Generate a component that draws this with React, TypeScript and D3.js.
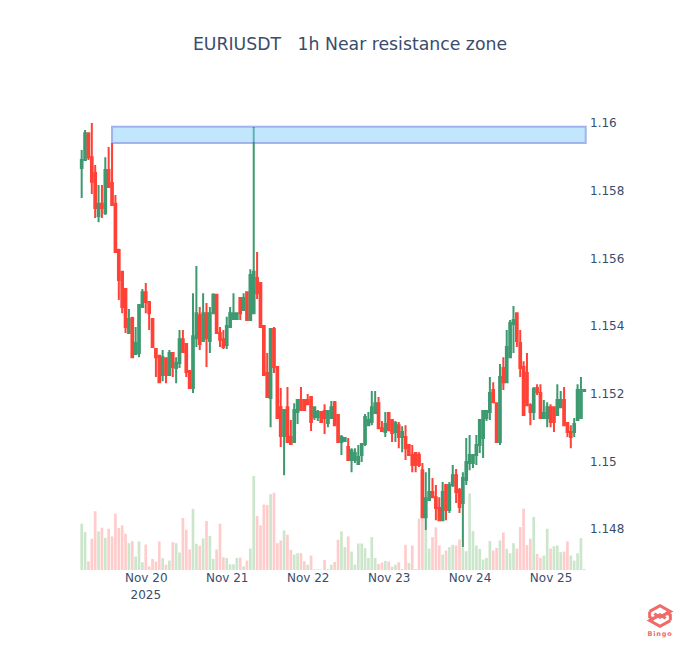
import { useEffect, useRef } from 'react'
import * as d3 from 'd3'

const startTime = '2025-11-19T05:00:00Z'

const opens = [
  1.15867, 1.15891, 1.1597, 1.15899, 1.15852, 1.15725, 1.15761, 1.15734, 1.15861, 1.15823,
  1.15761, 1.15625, 1.1556, 1.15509, 1.15379, 1.15424, 1.15317, 1.1532, 1.15456, 1.155,
  1.15471, 1.15421, 1.15332, 1.15312, 1.15255, 1.15305, 1.15255, 1.1532, 1.15276, 1.15291,
  1.15361, 1.15347, 1.15267, 1.15217, 1.15364, 1.15432, 1.15356, 1.15438, 1.15356, 1.15438,
  1.15492, 1.15379, 1.15361, 1.15344, 1.15397, 1.15421, 1.15421, 1.15483, 1.15447, 1.155,
  1.15418, 1.15438, 1.15542, 1.15527, 1.154, 1.15261, 1.15187, 1.15391, 1.15279, 1.1516,
  1.15075, 1.1516, 1.15072, 1.15057, 1.15146, 1.15181, 1.15181, 1.15181, 1.1519, 1.15131,
  1.15131, 1.15146, 1.15149, 1.15113, 1.15128, 1.15175, 1.15137, 1.15057, 1.1506, 1.15042,
  1.15004, 1.15004, 1.14992, 1.15019, 1.15051, 1.15107, 1.15116, 1.15143, 1.15172, 1.15098,
  1.15087, 1.15143, 1.15122, 1.15087, 1.15107, 1.15072, 1.15072, 1.15048, 1.15019, 1.15025,
  1.15019, 1.14974, 1.14835, 1.14886, 1.14909, 1.14894, 1.14862, 1.14826, 1.1493, 1.14856,
  1.1493, 1.14959, 1.14915, 1.14877, 1.14945, 1.14995, 1.14995, 1.15019, 1.15048, 1.15069,
  1.15128, 1.15146, 1.15211, 1.15172, 1.15057, 1.15276, 1.15234, 1.15308, 1.15406, 1.15438,
  1.1535, 1.15279, 1.15261, 1.15166, 1.15146, 1.15217, 1.15202, 1.15128, 1.15128, 1.1516,
  1.1516, 1.15137, 1.1516, 1.15181, 1.15113, 1.15087, 1.15087, 1.15122, 1.15128, 1.15208,
]
const highs = [
  1.1592, 1.15979, 1.1597, 1.16, 1.15876, 1.15817, 1.15817, 1.15899, 1.15929, 1.15941,
  1.15787, 1.15628, 1.1556, 1.15509, 1.1545, 1.15427, 1.15397, 1.15462, 1.15509, 1.15527,
  1.15471, 1.15421, 1.15332, 1.15312, 1.15329, 1.15305, 1.15329, 1.1532, 1.15308, 1.15388,
  1.15388, 1.15347, 1.15267, 1.15497, 1.15577, 1.15456, 1.15497, 1.15468, 1.15456, 1.15497,
  1.15492, 1.15397, 1.15388, 1.15427, 1.15456, 1.15497, 1.15438, 1.15483, 1.15497, 1.155,
  1.15568, 1.15988, 1.15619, 1.15527, 1.154, 1.1532, 1.15391, 1.15397, 1.15279, 1.15217,
  1.15152, 1.1522, 1.15122, 1.15172, 1.15181, 1.1522, 1.15181, 1.15199, 1.15193, 1.15163,
  1.15152, 1.15146, 1.15169, 1.15149, 1.15178, 1.15178, 1.15137, 1.15078, 1.15069, 1.15069,
  1.15039, 1.15039, 1.15048, 1.15051, 1.1514, 1.15146, 1.15208, 1.15208, 1.1519, 1.15119,
  1.15146, 1.15143, 1.15122, 1.15119, 1.15116, 1.15104, 1.15107, 1.15048, 1.15048, 1.15025,
  1.15027, 1.14995, 1.14968, 1.1498, 1.14951, 1.1493, 1.14894, 1.14939, 1.1493, 1.14939,
  1.14989, 1.14977, 1.14921, 1.14968, 1.15069, 1.15078, 1.15019, 1.15078, 1.15122, 1.15152,
  1.15149, 1.15249, 1.15234, 1.15172, 1.15288, 1.15308, 1.15388, 1.15418, 1.15459, 1.15438,
  1.15388, 1.15296, 1.1532, 1.15172, 1.1522, 1.15228, 1.15228, 1.15181, 1.15175, 1.15169,
  1.1516, 1.15228, 1.15208, 1.1522, 1.15116, 1.15107, 1.15128, 1.15228, 1.15249, 1.15211,
]
const lows = [
  1.15778, 1.15891, 1.15891, 1.1579, 1.15719, 1.15707, 1.15719, 1.15728, 1.15808, 1.15758,
  1.15619, 1.15477, 1.15438, 1.15379, 1.15379, 1.15308, 1.15314, 1.15308, 1.15456, 1.15438,
  1.15388, 1.15338, 1.15249, 1.15231, 1.15237, 1.15231, 1.15255, 1.15249, 1.15231, 1.15276,
  1.15323, 1.15249, 1.15217, 1.15202, 1.15338, 1.15329, 1.15356, 1.15279, 1.1532, 1.15438,
  1.15379, 1.15338, 1.15332, 1.15332, 1.15397, 1.15418, 1.15418, 1.15418, 1.15447, 1.15415,
  1.15418, 1.15438, 1.1548, 1.15397, 1.15255, 1.1519, 1.15101, 1.15261, 1.15128, 1.15042,
  1.14959, 1.15054, 1.15051, 1.15057, 1.1511, 1.15152, 1.15152, 1.15169, 1.1509, 1.15122,
  1.15119, 1.15116, 1.15081, 1.15101, 1.15128, 1.15107, 1.15057, 1.15019, 1.1506, 1.15001,
  1.14968, 1.14995, 1.14989, 1.14998, 1.15045, 1.15104, 1.15107, 1.15143, 1.15098, 1.15087,
  1.15072, 1.15092, 1.15057, 1.15057, 1.15039, 1.15027, 1.15004, 1.15019, 1.14968, 1.14968,
  1.14983, 1.14835, 1.14797, 1.14886, 1.14894, 1.14826, 1.14826, 1.14826, 1.14826, 1.14847,
  1.14924, 1.14877, 1.14847, 1.14747, 1.1493, 1.14974, 1.1498, 1.14989, 1.15025, 1.1501,
  1.15119, 1.15122, 1.15175, 1.15057, 1.15048, 1.15211, 1.15234, 1.15308, 1.1532, 1.15338,
  1.15249, 1.15137, 1.15166, 1.15107, 1.15122, 1.15196, 1.15128, 1.15128, 1.15101, 1.15101,
  1.15087, 1.15137, 1.1516, 1.15107, 1.15072, 1.15039, 1.15072, 1.15119, 1.15125, 1.15208,
]
const closes = [
  1.15891, 1.1597, 1.15899, 1.15826, 1.15749, 1.15761, 1.15749, 1.15861, 1.15811, 1.15758,
  1.15619, 1.15536, 1.15456, 1.15397, 1.15421, 1.15308, 1.1535, 1.15462, 1.155, 1.15471,
  1.15438, 1.15338, 1.15308, 1.15234, 1.15308, 1.15255, 1.1532, 1.15279, 1.15291, 1.15361,
  1.15323, 1.15264, 1.15217, 1.1537, 1.15438, 1.15347, 1.15438, 1.15364, 1.15438, 1.15492,
  1.15379, 1.15359, 1.15338, 1.154, 1.15438, 1.15438, 1.15438, 1.15438, 1.15483, 1.15418,
  1.15551, 1.1556, 1.15497, 1.15397, 1.15255, 1.1519, 1.15391, 1.15279, 1.15128, 1.15075,
  1.15152, 1.15057, 1.15051, 1.15152, 1.15181, 1.15152, 1.15152, 1.15169, 1.15116, 1.1516,
  1.15146, 1.15116, 1.15128, 1.15149, 1.1516, 1.15107, 1.15057, 1.15072, 1.15069, 1.15004,
  1.15033, 1.15025, 1.15013, 1.15051, 1.15131, 1.15122, 1.1516, 1.15172, 1.15098, 1.1509,
  1.1511, 1.15092, 1.15084, 1.15113, 1.15072, 1.15087, 1.15039, 1.15019, 1.14989, 1.14989,
  1.14989, 1.14835, 1.14891, 1.14909, 1.14894, 1.14862, 1.14826, 1.14909, 1.14856, 1.1493,
  1.14959, 1.14909, 1.14865, 1.14951, 1.14998, 1.15019, 1.15019, 1.15048, 1.15122, 1.15149,
  1.15149, 1.15202, 1.15175, 1.15057, 1.15249, 1.15234, 1.15338, 1.15409, 1.15418, 1.15356,
  1.15276, 1.15137, 1.15166, 1.15146, 1.15214, 1.15205, 1.15128, 1.15143, 1.1516, 1.15116,
  1.15116, 1.15181, 1.15181, 1.15107, 1.15087, 1.15072, 1.1511, 1.15211, 1.15211, 1.15211,
]
const volumes = [
  138, 113, 26, 93, 175, 115, 126, 96, 123, 100, 168, 125, 133, 108, 80, 86, 40, 85, 23, 76,
  11, 33, 25, 85, 35, 16, 28, 83, 80, 52, 155, 120, 61, 182, 78, 72, 94, 146, 101, 33,
  61, 138, 38, 36, 17, 17, 36, 37, 11, 28, 64, 280, 161, 133, 195, 194, 226, 230, 80, 88,
  118, 105, 60, 46, 50, 50, 26, 16, 43, 2, 2, 1, 30, 3, 16, 24, 90, 115, 68, 100,
  55, 16, 79, 79, 65, 36, 98, 36, 18, 22, 27, 25, 10, 16, 23, 3, 75, 21, 73, 3,
  153, 155, 120, 64, 98, 127, 73, 46, 58, 68, 75, 73, 91, 68, 56, 228, 116, 73, 63, 31,
  36, 86, 58, 66, 88, 112, 63, 50, 80, 64, 128, 183, 74, 93, 158, 48, 36, 43, 123, 64,
  71, 73, 53, 55, 85, 43, 28, 50, 95, 3,
]
const volumeUp = [
  1, 1, 0, 0, 0, 1, 0, 1, 0, 0, 0, 0, 0, 0, 1, 0, 1, 1, 1, 0,
  0, 0, 0, 0, 1, 0, 1, 0, 1, 1, 0, 0, 0, 1, 1, 0, 1, 0, 1, 1,
  0, 0, 0, 1, 1, 1, 1, 0, 1, 0, 1, 1, 0, 0, 0, 0, 1, 0, 0, 0,
  1, 0, 0, 1, 1, 0, 0, 1, 0, 1, 1, 0, 0, 1, 1, 0, 0, 1, 1, 0,
  1, 1, 1, 1, 1, 1, 1, 1, 0, 0, 1, 0, 0, 1, 0, 1, 0, 1, 0, 0,
  0, 0, 1, 1, 0, 0, 0, 1, 0, 1, 1, 0, 0, 1, 1, 1, 1, 1, 1, 1,
  1, 1, 0, 0, 1, 0, 1, 1, 1, 0, 0, 0, 0, 0, 1, 0, 0, 1, 1, 0,
  1, 1, 1, 0, 0, 1, 1, 1, 1, 1,
]

const priceTicks = [1.16, 1.158, 1.156, 1.154, 1.152, 1.15, 1.148]
const dayTicks = ['2025-11-20', '2025-11-21', '2025-11-22', '2025-11-23', '2025-11-24', '2025-11-25']
const zoneLow = 1.15941
const zoneHigh = 1.15989
const zoneStartIndex = 9

export default function App() {
  const svgRef = useRef<SVGSVGElement>(null)

  useEffect(() => {
    if (!svgRef.current) return

    const svg = d3.select(svgRef.current)
    svg.selectAll('*').remove()

    const font = '"DejaVu Sans", verdana, arial, sans-serif'
    const textColor = '#3a4c6c'
    const left = 80
    const right = 586
    const bottom = 570

    const start = new Date(startTime)
    const times = opens.map((_, i) => d3.utcHour.offset(start, i))
    const halfHour = 30 * 60 * 1000

    const x = d3.scaleUtc()
      .domain([new Date(+start - halfHour), new Date(+times[times.length - 1] + halfHour)])
      .range([left, right])
    const band = x(times[1]) - x(times[0])

    const y = d3.scaleLinear().domain([1.148, 1.16]).range([529, 123])
    const yVolume = d3.scaleLinear().domain([0, 280]).range([bottom, 476])

    // volume bars sit under the candles
    svg.append('g')
      .selectAll('rect')
      .data(volumes)
      .join('rect')
      .attr('x', (_, i) => x(times[i]) - band * 0.4)
      .attr('width', band * 0.8)
      .attr('y', d => yVolume(d))
      .attr('height', d => bottom - yVolume(d))
      .attr('fill', (_, i) => (volumeUp[i] ? 'rgba(0,128,0,0.2)' : 'rgba(255,0,0,0.2)'))

    svg.append('g')
      .selectAll('path')
      .data(opens)
      .join('path')
      .attr('fill', (o, i) => (closes[i] >= o ? '#3D9970' : '#FF4136'))
      .attr('stroke', (o, i) => (closes[i] >= o ? '#3D9970' : '#FF4136'))
      .attr('stroke-width', 2)
      .attr('d', (o, i) => {
        const cx = x(times[i])
        const w = band * 0.25
        const top = y(Math.max(o, closes[i]))
        const base = y(Math.min(o, closes[i]))
        return `M${cx - w},${top}H${cx + w}V${base}H${cx - w}Z` +
          `M${cx},${top}V${y(highs[i])}M${cx},${base}V${y(lows[i])}`
      })

    // resistance zone
    svg.append('rect')
      .attr('x', x(times[zoneStartIndex]))
      .attr('width', right - 0.3 - x(times[zoneStartIndex]))
      .attr('y', y(zoneHigh))
      .attr('height', y(zoneLow) - y(zoneHigh))
      .attr('fill', '#87CEFA')
      .attr('stroke', '#4169E1')
      .attr('stroke-width', 2)
      .attr('opacity', 0.5)

    const yAxis = svg.append('g')
      .attr('transform', `translate(${right},0)`)
      .call(d3.axisRight(y).tickValues(priceTicks).tickSize(0).tickPadding(4).tickFormat(d => String(+d)))
    yAxis.select('.domain').remove()
    yAxis.selectAll('text')
      .attr('fill', textColor)
      .style('font-family', font)
      .style('font-size', '12px')

    const xAxis = svg.append('g')
      .attr('transform', `translate(0,${bottom})`)
      .call(
        d3.axisBottom(x)
          .tickValues(dayTicks.map(d => new Date(`${d}T00:00:00Z`)))
          .tickSize(0)
          .tickPadding(3)
          .tickFormat(d => d3.utcFormat('%b %-d')(d as Date))
      )
    xAxis.select('.domain').remove()
    xAxis.selectAll('text')
      .attr('fill', textColor)
      .style('font-family', font)
      .style('font-size', '12px')

    svg.append('text')
      .attr('x', x(new Date(`${dayTicks[0]}T00:00:00Z`)))
      .attr('y', 599)
      .attr('text-anchor', 'middle')
      .attr('fill', textColor)
      .style('font-family', font)
      .style('font-size', '12px')
      .text('2025')

    svg.append('text')
      .attr('x', 350)
      .attr('y', 50)
      .attr('text-anchor', 'middle')
      .attr('fill', textColor)
      .style('font-family', font)
      .style('font-size', '17.3px')
      .style('white-space', 'pre')
      .text('EURIUSDT   1h Near resistance zone')

    // watermark
    const logo = svg.append('g')
      .attr('transform', 'translate(660,616) scale(1.15)')
      .attr('fill', 'none')
      .attr('stroke', '#f06a6a')
      .attr('stroke-width', 2.6)
    logo.append('path').attr('d', 'M-9,-4L0,-9L9,-4L0,1L-5,-2')
    logo.append('path').attr('d', 'M9,4L0,9L-9,4L0,-1L5,2')
    logo.append('path').attr('d', 'M-9,-4V1L-5,3M9,4V-1L5,-3')
    svg.append('text')
      .attr('x', 660)
      .attr('y', 636)
      .attr('text-anchor', 'middle')
      .attr('fill', '#ee6a6a')
      .style('font-family', 'DejaVu Sans, sans-serif')
      .style('font-size', '6.5px')
      .style('font-weight', 'bold')
      .style('letter-spacing', '0.8px')
      .text('Bingo')
  }, [])

  return (
    <svg
      ref={svgRef}
      width={700}
      height={650}
      style={{ position: 'absolute', left: 0, top: 0, background: '#fff' }}
    />
  )
}
